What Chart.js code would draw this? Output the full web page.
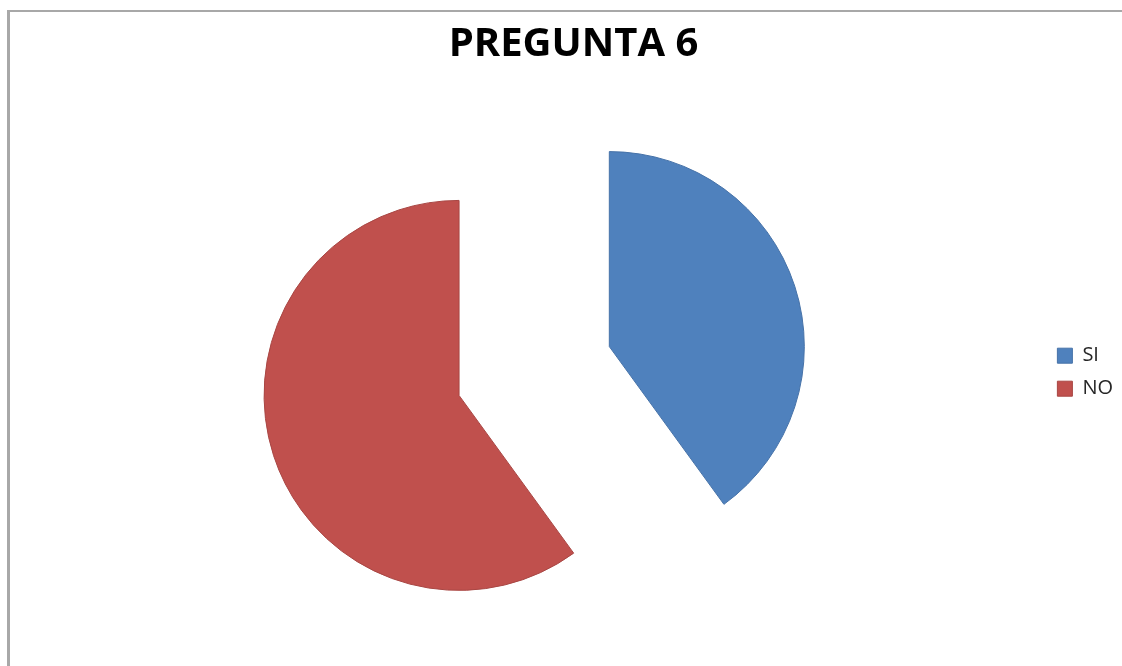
<!DOCTYPE html>
<html>
<head>
<meta charset="utf-8">
<script src="https://cdn.jsdelivr.net/npm/chart.js@4/dist/chart.umd.min.js"></script>
<style>
  body { margin: 0; background: #fff; }
  #frame { position: absolute; left: 7px; top: 10px; width: 1200px; height: 700px;
           border-left: 3px solid #a8a8a8; border-top: 2px solid #a8a8a8; }
  #wrap { position: absolute; left: 0; top: 0; width: 1122px; height: 666px; }
</style>
</head>
<body>
<div id="frame"></div>
<div id="wrap"><canvas id="pieChart"></canvas></div>
<script>
// datos de la pregunta
const labels = ["SI", "NO"];
const values = [40, 60];
const colors = ["#4F81BD", "#C0504D"];
const edges = ["#4672a8", "#a84643"];
const explode = 79; // separacion de las porciones (px)

// mueve cada porcion hacia afuera sin cambiar su radio ni su angulo
const explodePlugin = {
  id: "explode",
  afterDatasetsUpdate(chart) {
    chart.getDatasetMeta(0).data.forEach(arc => {
      const mid = (arc.startAngle + arc.endAngle) / 2;
      arc.x += Math.cos(mid) * explode;
      arc.y += Math.sin(mid) * explode;
    });
  }
};

const ctx = document.getElementById("pieChart").getContext("2d");
new Chart(ctx, {
  type: "pie",
  data: {
    labels: labels,
    datasets: [{
      data: values,
      backgroundColor: colors,
      borderColor: edges,
      borderWidth: 1
    }]
  },
  options: {
    responsive: true,
    maintainAspectRatio: false,
    animation: false,
    radius: 195,
    layout: { padding: { left: 24, right: -1, top: 0, bottom: 3 } },
    plugins: {
      title: {
        display: true,
        text: "PREGUNTA 6",
        color: "#000",
        font: { family: "Open Sans", size: 40, weight: "bold" },
        padding: { top: 21, bottom: 10 }
      },
      legend: {
        position: "right",
        title: { display: true, text: " ", font: { size: 12 }, padding: { top: 33, bottom: 34 } },
        labels: {
          color: "#262626",
          font: { family: "Open Sans", size: 20 },
          boxWidth: 15,
          boxHeight: 15,
          padding: 13
        }
      },
      tooltip: { enabled: false }
    }
  },
  plugins: [explodePlugin]
});
</script>
</body>
</html>
